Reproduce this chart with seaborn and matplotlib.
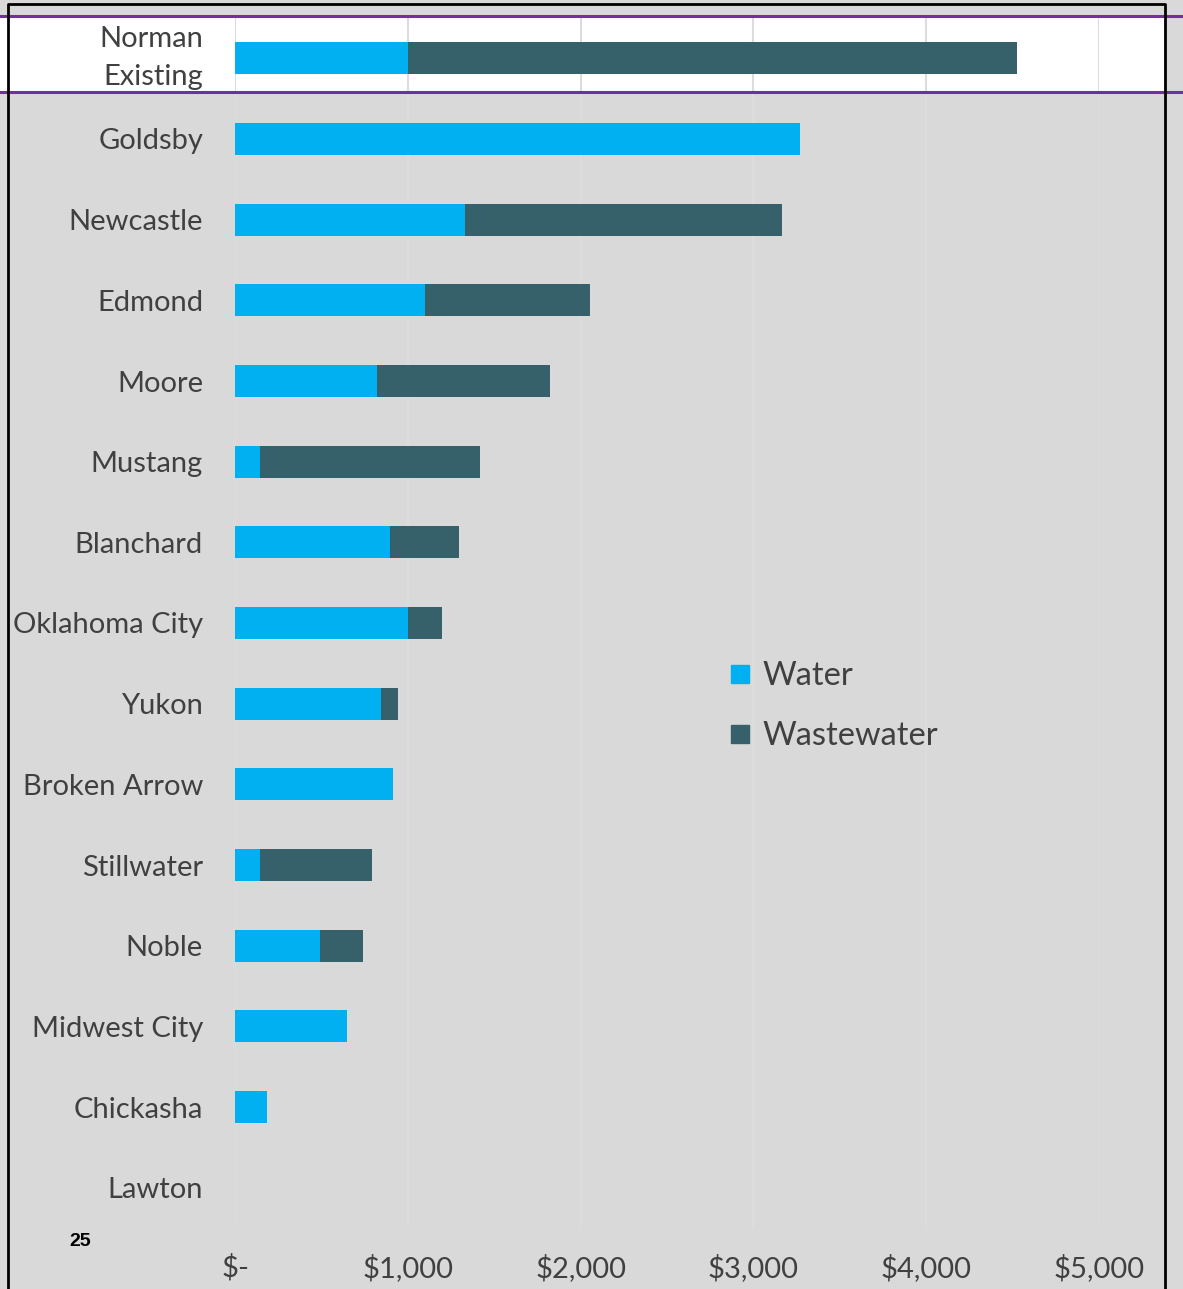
import matplotlib
matplotlib.use("Agg")
import matplotlib.pyplot as plt
from matplotlib.patches import Rectangle
from matplotlib.lines import Line2D
import seaborn as sns
import pandas as pd

# ── data ──────────────────────────────────────────────────────
cities = ["Norman\nExisting", "Goldsby", "Newcastle", "Edmond", "Moore",
          "Mustang", "Blanchard", "Oklahoma City", "Yukon", "Broken Arrow",
          "Stillwater", "Noble", "Midwest City", "Chickasha", "Lawton"]
water      = [1000, 3270, 1330, 1100, 822, 145, 897, 1000, 845, 915, 145, 492, 648, 185, 0]
wastewater = [3525,    0, 1835,  955, 1000, 1273, 400, 200, 98, 0, 648, 250, 0, 0, 0]
xticks = [0, 1000, 2000, 3000, 4000, 5000]
xtick_labels = ["$-", "$1,000", "$2,000", "$3,000", "$4,000", "$5,000"]

WATER_C = "#00B0F0"
WASTE_C = "#37616A"
BG      = "#D9D9D9"
TXT     = "#404040"

df = pd.DataFrame({"city": cities, "water": water,
                   "total": [w + ww for w, ww in zip(water, wastewater)]})

W, H = 1183, 1289
fig = plt.figure(figsize=(W / 100, H / 100), dpi=100, facecolor=BG)
plt.rcParams["font.family"] = ["Lato", "DejaVu Sans"]

ax = fig.add_axes([235 / W, 1 - 1228 / H, (1099 - 235) / W, (1228 - 18) / H])
ax.set_facecolor("none")

sns.barplot(data=df, y="city", x="total", color=WASTE_C, orient="h",
            width=0.4, saturation=1, ax=ax, zorder=3)
sns.barplot(data=df, y="city", x="water", color=WATER_C, orient="h",
            width=0.4, saturation=1, ax=ax, zorder=4)

ax.set_xlim(0, 5000)
ax.set_ylim(len(cities) - 0.5, -0.5)
ax.set_xticks(xticks)
ax.set_xticklabels(xtick_labels)
ax.set_xlabel("")
ax.set_ylabel("")
ax.grid(axis="x", color="#DCDCDC", linewidth=1.5, zorder=0)
ax.set_axisbelow(True)
for s in ax.spines.values():
    s.set_visible(False)
ax.tick_params(axis="both", length=0, labelsize=21, labelcolor=TXT)
ax.tick_params(axis="y", pad=23)
ax.tick_params(axis="x", pad=19)
for lbl in ax.get_yticklabels():
    if "\n" in lbl.get_text():
        lbl.set_linespacing(1.58)
        lbl.set_verticalalignment("center")

# white highlight band behind the first row, with purple rules
fig.patches.append(Rectangle((0, 1 - 92 / H), 1164 / W, 76 / H,
                             transform=fig.transFigure, facecolor="white",
                             edgecolor="none", zorder=-1))
for yy in (16, 92):
    fig.add_artist(Line2D([0, 1], [1 - yy / H] * 2, transform=fig.transFigure,
                          color="#7030A0", linewidth=2.2, zorder=6))

# slide frame
fig.add_artist(Line2D([8 / W, 8 / W, 1165 / W, 1165 / W],
                      [0, 1 - 4 / H, 1 - 4 / H, 0], transform=fig.transFigure,
                      color="black", linewidth=2, zorder=7))

# legend
handles = [Line2D([], [], marker="s", linestyle="none", markersize=13,
                  markerfacecolor=c, markeredgecolor=c) for c in (WATER_C, WASTE_C)]
leg = fig.legend(handles, ["Water", "Wastewater"], loc="upper left",
                 bbox_to_anchor=(694 / W, 1 - 632 / H), frameon=False,
                 fontsize=23.5, labelspacing=0.92, handletextpad=0.2,
                 handlelength=1.0, labelcolor=TXT)

# page number
fig.text(80 / W, 1 - 1241 / H, "25", fontsize=14, fontweight="bold",
         family="Liberation Sans", ha="center", va="center", color="black")

fig.savefig("out.png", dpi=100, facecolor=BG)
